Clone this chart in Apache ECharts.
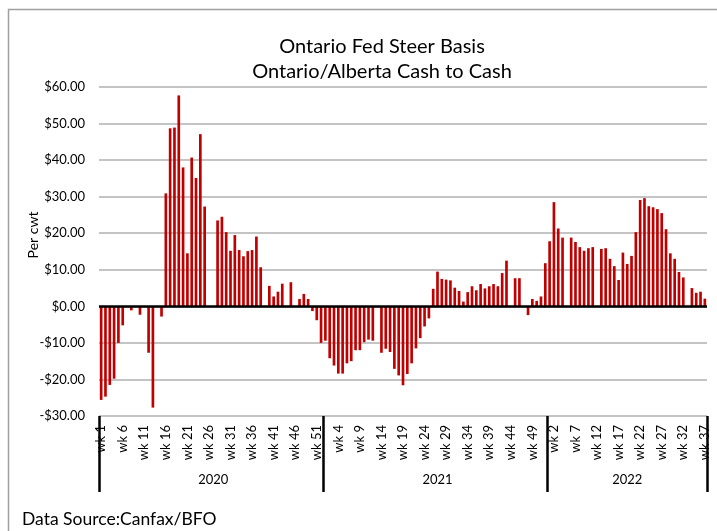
<!DOCTYPE html>
<html>
<head>
<meta charset="utf-8">
<script src="https://cdn.jsdelivr.net/npm/echarts@6/dist/echarts.min.js"></script>
<style>
html,body{margin:0;padding:0;background:#fff;}
#chart{width:717px;height:531px;}
</style>
</head>
<body>
<div id="chart"></div>
<script>
// ---- data ----
const titleLines = ['Ontario Fed Steer Basis', 'Ontario/Alberta Cash to Cash'];
const yAxisName = 'Per cwt';
const sourceNote = 'Data Source:Canfax/BFO';
const years = ['2020', '2021', '2022'];
const weeksPerYear = [52, 52, 37];
const values2020 = [-25.6, -24.7, -21.5, -19.8, -10.0, -5.2, null, -1.1, null, -2.3,
  null, -12.7, -27.7, null, -2.8, 30.9, 48.7, 48.9, 57.7, 38.0,
  14.5, 40.7, 35.1, 47.1, 27.3, null, null, 23.5, 24.5, 20.3,
  15.2, 19.5, 15.4, 13.7, 15.1, 15.4, 19.1, 10.7, null, 5.6,
  2.7, 4.0, 6.2, null, 6.6, null, 2.0, 3.4, 2.0, -1.3,
  -3.8, -10.0];
const values2021 = [-9.4, -14.2, -16.2, -18.4, -18.4, -15.6, -15.0, -12.0, -12.0, -9.8,
  -9.1, -9.4, null, -12.7, -11.6, -12.5, -17.1, -18.9, -21.6, -18.5,
  -15.6, -11.5, -8.7, -5.5, -3.3, 4.8, 9.5, 7.5, 7.3, 7.1,
  5.1, 4.2, 1.3, 3.9, 5.5, 4.4, 6.1, 4.9, 5.5, 6.1,
  5.5, 9.1, 12.5, null, 7.7, 7.7, null, -2.4, 2.0, 1.5,
  2.7, 11.8];
const values2022 = [17.8, 28.5, 21.3, 18.8, null, 18.8, 17.6, 16.2, 15.2, 15.9,
  16.2, null, 15.7, 15.9, 13.0, 11.0, 7.2, 14.7, 11.6, 13.8,
  20.3, 29.1, 29.6, 27.4, 27.1, 26.6, 25.5, 21.1, 14.5, 13.0,
  9.4, 7.9, null, 5.0, 3.7, 4.0, 2.1];
const yMin = -30, yMax = 60, yStep = 10;

// ---- build categories ----
const weekCats = [];
const yearCats = [];
const yearStarts = [];
weeksPerYear.forEach(function (n, yi) {
  yearStarts.push(weekCats.length);
  const mid = Math.floor(n / 2);
  for (let w = 1; w <= n; w++) {
    weekCats.push('wk ' + w);
    yearCats.push(w - 1 === mid ? years[yi] : '');
  }
});
const allValues = values2020.concat(values2021, values2022);

const FONT = 'Lato, "Open Sans", sans-serif';
const chart = echarts.init(document.getElementById('chart'), null, {renderer: 'canvas'});
chart.setOption({
  animation: false,
  backgroundColor: '#fff',
  title: {
    text: titleLines.join('\n'),
    left: 377,
    textAlign: 'center',
    top: 29,
    textStyle: {fontFamily: FONT, fontSize: 20, fontWeight: 'normal', color: '#000', lineHeight: 25}
  },
  grid: {left: 99, right: 10, top: 87, bottom: 115, containLabel: false},
  xAxis: [{
    type: 'category',
    data: weekCats,
    position: 'bottom',
    axisLine: {show: false},
    axisTick: {show: false},
    axisLabel: {
      interval: 4, rotate: 90, margin: 9,
      fontFamily: FONT, fontSize: 13, color: '#000'
    },
    splitLine: {show: false}
  }, {
    type: 'category',
    data: yearCats,
    position: 'bottom',
    offset: 0,
    axisLine: {show: false},
    axisTick: {
      show: true, length: 76, alignWithLabel: false,
      interval: function (idx) { return yearStarts.indexOf(idx) >= 0; },
      lineStyle: {color: '#000', width: 2.5}
    },
    axisLabel: {interval: 0, margin: 57, fontFamily: FONT, fontSize: 13, color: '#000'},
    splitLine: {show: false}
  }],
  yAxis: {
    type: 'value',
    min: yMin, max: yMax, interval: yStep,
    axisLine: {show: false},
    axisTick: {show: false},
    axisLabel: {
      margin: 14, fontFamily: FONT, fontSize: 13, color: '#000',
      formatter: function (v) {
        return (v < 0 ? '-$' : '$') + Math.abs(v).toFixed(2);
      }
    },
    splitLine: {show: true, lineStyle: {color: '#b0b0b0', width: 1.5}}
  },
  series: [{
    type: 'bar',
    xAxisIndex: 0,
    data: allValues,
    barWidth: '62%',
    itemStyle: {color: '#C00000'},
    markLine: {
      silent: true, symbol: 'none', animation: false,
      label: {show: false},
      lineStyle: {color: '#000', width: 2.5, type: 'solid'},
      data: [{yAxis: 0}]
    }
  }],
  graphic: [{
    type: 'rect', silent: true,
    shape: {x: 8.5, y: 9.5, width: 760, height: 600},
    style: {fill: null, stroke: '#a0a0a0', lineWidth: 1.5}
  }, {
    type: 'text', silent: true,
    x: 33, y: 235, rotation: Math.PI / 2,
    style: {text: yAxisName, font: '14px ' + FONT, fill: '#000', textAlign: 'center', textVerticalAlign: 'middle'}
  }, {
    type: 'text', silent: true,
    left: 22, top: 510,
    style: {text: sourceNote, font: '17.5px ' + FONT, fill: '#000'}
  }]
});
</script>
</body>
</html>
